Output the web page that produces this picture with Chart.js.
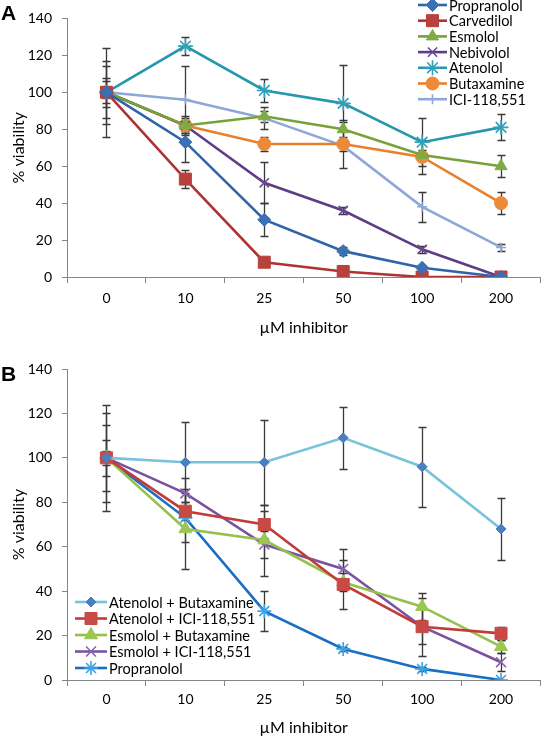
<!DOCTYPE html>
<html>
<head>
<meta charset="utf-8">
<script src="https://cdn.jsdelivr.net/npm/chart.js@4.4.0/dist/chart.umd.min.js"></script>
<style>
    body { margin: 0; background: #fff; width: 550px; height: 736px; position: relative; overflow: hidden; font-family: Lato, sans-serif; }
    .panel { position: absolute; left: 0; width: 550px; }
    #wrapA { top: 0; height: 345px; }
    #wrapB { top: 345px; height: 391px; }
    .tag { position: absolute; left: 1px; font: bold 21px "Liberation Sans", Arial, sans-serif; color: #000; }
</style>
</head>
<body>
<div class="panel" id="wrapA"><canvas id="chartA"></canvas></div>
<div class="panel" id="wrapB"><canvas id="chartB"></canvas></div>
<div class="tag" style="top:1px">A</div>
<div class="tag" style="top:362px">B</div>
<script>
// Data
var doses = ['0', '10', '25', '50', '100', '200'];
var yTicks = [0, 20, 40, 60, 80, 100, 120, 140];

// Panel A
var propranolol = [100, 73, 31, 14, 5, 0];
var propranololErr = [3, 11, 9, 2, 1, 0];
var carvedilol = [100, 53, 8, 3, 0, 0];
var carvedilolErr = [2, 5, 1, 1, 0, 0];
var esmolol = [100, 82, 87, 80, 66, 60];
var esmololErr = [17, 4, 3, 4, 3, 6];
var nebivolol = [100, 82, 51, 36, 15, 0];
var nebivololErr = [6, 3, 11, 2, 2, 0];
var atenolol = [100, 125, 101, 94, 73, 81];
var atenololErr = [24, 5, 6, 21, 13, 7];
var butaxamine = [100, 82, 72, 72, 65, 40];
var butaxamineErr = [14, 5, 4, 13, 9, 6];
var ici = [100, 96, 86, 71, 38, 16];
var iciErr = [8, 18, 6, 3, 8, 2];

// Panel B
var atenButax = [100, 98, 98, 109, 96, 68];
var atenButaxErr = [24, 18, 19, 14, 18, 14];
var atenIci = [100, 76, 70, 43, 24, 21];
var atenIciErr = [8, 4, 6, 11, 13, 3];
var esmButax = [100, 68, 63, 44, 33, 15];
var esmButaxErr = [20, 18, 16, 4, 6, 3];
var esmIci = [100, 84, 61, 50, 24, 8];
var esmIciErr = [15, 7, 6, 9, 8, 4];
var propB = [100, 73, 31, 14, 5, 0];
var propBErr = [3, 11, 9, 1, 1, 0];

var axisColor = '#868686';
var fontName = 'Lato';

// Error bars
var errorBars = {
    id: 'errorBars',
    beforeDatasetsDraw: function (chart)
    {
        var ctx = chart.ctx;
        var y = chart.scales.y;
        ctx.save();
        ctx.strokeStyle = '#3a3a3a';
        ctx.lineWidth = 1.3;
        chart.data.datasets.forEach(function (ds, i)
        {
            var meta = chart.getDatasetMeta(i);
            meta.data.forEach(function (pt, j)
            {
                var e = ds.errors[j];
                if (!e) return;
                var top = Math.round(y.getPixelForValue(ds.data[j] + e)) + 0.5;
                var bot = Math.round(y.getPixelForValue(ds.data[j] - e)) + 0.5;
                var x = Math.round(pt.x) + 0.5;
                ctx.beginPath();
                ctx.moveTo(x, top);
                ctx.lineTo(x, bot);
                ctx.moveTo(x - 4, top);
                ctx.lineTo(x + 4, top);
                ctx.moveTo(x - 4, bot);
                ctx.lineTo(x + 4, bot);
                ctx.stroke();
            });
        });
        ctx.restore();
    }
};

// Legend drawn over the plot
var boxLegend = {
    id: 'boxLegend',
    afterDraw: function (chart, args, opts)
    {
        var ctx = chart.ctx;
        ctx.save();
        ctx.font = opts.fontSize + 'px ' + fontName;
        ctx.textBaseline = 'middle';
        ctx.textAlign = 'left';
        chart.data.datasets.forEach(function (ds, i)
        {
            var cy = opts.y + i * opts.step;
            ctx.strokeStyle = ds.borderColor;
            ctx.lineWidth = ds.borderWidth;
            ctx.beginPath();
            ctx.moveTo(opts.x, cy);
            ctx.lineTo(opts.x + opts.len, cy);
            ctx.stroke();
            ctx.fillStyle = ds.pointBackgroundColor;
            ctx.strokeStyle = ds.pointBorderColor;
            ctx.lineWidth = ds.pointBorderWidth;
            Chart.helpers.drawPoint(ctx,
            {
                pointStyle: ds.pointStyle,
                radius: ds.pointRadius,
                rotation: 0,
                borderWidth: ds.pointBorderWidth
            }, opts.x + opts.len / 2, cy);
            ctx.fillStyle = '#000';
            ctx.fillText(ds.label, opts.x + opts.len + 2, cy + 1);
        });
        ctx.restore();
    }
};

function series(label, data, errors, line, marker, style, radius)
{
    var open = (style == 'crossRot' || style == 'star' || style == 'cross');
    return {
        label: label,
        data: data,
        errors: errors,
        borderColor: line,
        borderWidth: 2.6,
        pointStyle: style,
        pointRadius: radius,
        pointHoverRadius: radius,
        pointBackgroundColor: marker,
        pointBorderColor: marker,
        pointBorderWidth: open ? 1.6 : 1,
        tension: 0
    };
}

function makeOptions(cfg)
{
    return {
        responsive: true,
        maintainAspectRatio: false,
        animation: false,
        events: [],
        layout: { padding: { top: cfg.top, right: 3, left: 0, bottom: 0 } },
        plugins:
        {
            legend: { display: false },
            tooltip: { enabled: false },
            boxLegend: cfg.legend
        },
        scales:
        {
            x:
            {
                type: 'category',
                offset: true,
                afterFit: function (scale) { scale.height = cfg.xHeight; },
                border: { color: axisColor, width: 1 },
                grid: { offset: true, drawOnChartArea: false, color: axisColor, tickLength: 6 },
                ticks: { color: '#000', padding: cfg.tickPad, font: { family: fontName, size: 14 }, maxRotation: 0 },
                title:
                {
                    display: true,
                    text: 'µM inhibitor',
                    color: '#000',
                    font: { family: fontName, size: 16, lineHeight: 1 },
                    padding: { top: 0, bottom: cfg.titlePad }
                }
            },
            y:
            {
                min: 0,
                max: 140,
                afterFit: function (scale) { scale.width = 67; },
                afterBuildTicks: function (scale)
                {
                    scale.ticks = yTicks.map(function (v) { return { value: v }; });
                },
                border: { color: axisColor, width: 1 },
                grid: { drawOnChartArea: false, color: axisColor, tickLength: 5 },
                ticks: { color: '#000', padding: 10, font: { family: fontName, size: 14 } },
                title:
                {
                    display: true,
                    text: '% viability',
                    color: '#000',
                    font: { family: fontName, size: 16, lineHeight: 1 },
                    padding: { top: 11, bottom: 0 }
                }
            }
        }
    };
}

// Chart A
var ctxA = document.getElementById('chartA').getContext('2d');
var chartA = new Chart(ctxA,
{
    type: 'line',
    data:
    {
        labels: doses,
        datasets: [
            series('Propranolol', propranolol, propranololErr, '#2f65a8', '#3a70b4', 'rectRot', 6.5),
            series('Carvedilol', carvedilol, carvedilolErr, '#ad3431', '#b8403d', 'rect', 8.5),
            series('Esmolol', esmolol, esmololErr, '#77a23a', '#7fab44', 'triangle', 7),
            series('Nebivolol', nebivolol, nebivololErr, '#5e3d86', '#6b4a94', 'crossRot', 6.5),
            series('Atenolol', atenolol, atenololErr, '#2897ae', '#2fa1ba', 'star', 7.5),
            series('Butaxamine', butaxamine, butaxamineErr, '#e8802c', '#ec8a38', 'circle', 6.5),
            series('ICI-118,551', ici, iciErr, '#8ea6d8', '#8ea6d8', 'cross', 5)
        ]
    },
    options: makeOptions(
    {
        top: 15,
        xHeight: 68,
        tickPad: 7,
        titlePad: 9,
        legend: { x: 418, y: 5, step: 15.7, len: 29, fontSize: 14.5 }
    }),
    plugins: [errorBars, boxLegend]
});

// Chart B
var ctxB = document.getElementById('chartB').getContext('2d');
var chartB = new Chart(ctxB,
{
    type: 'line',
    data:
    {
        labels: doses,
        datasets: [
            series('Atenolol + Butaxamine', atenButax, atenButaxErr, '#79c3da', '#4a7fc0', 'rectRot', 5),
            series('Atenolol + ICI-118,551', atenIci, atenIciErr, '#c23c37', '#c84a46', 'rect', 8.5),
            series('Esmolol + Butaxamine', esmButax, esmButaxErr, '#95c04a', '#9cc553', 'triangle', 7.5),
            series('Esmolol + ICI-118,551', esmIci, esmIciErr, '#7a52a0', '#8a63ad', 'crossRot', 7),
            series('Propranolol', propB, propBErr, '#1a6ec4', '#3ba3e3', 'star', 7)
        ]
    },
    options: makeOptions(
    {
        top: 24,
        xHeight: 56,
        tickPad: 5,
        titlePad: 0,
        legend: { x: 75, y: 257, step: 16.5, len: 32, fontSize: 14.5 }
    }),
    plugins: [errorBars, boxLegend]
});
</script>
</body>
</html>
